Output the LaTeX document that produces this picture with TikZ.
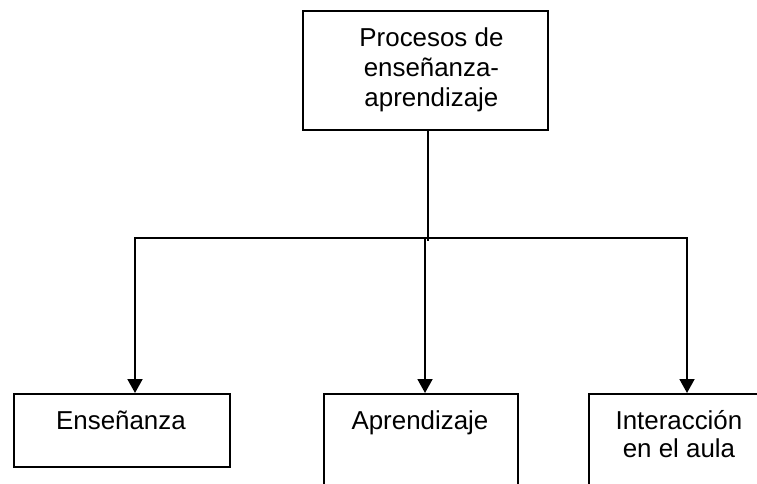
\documentclass[tikz,border=0pt]{standalone}
\usepackage{fontspec}
\setmainfont{Liberation Sans}
\usetikzlibrary{arrows.meta}
\begin{document}
\begin{tikzpicture}[x=1bp,y=-1bp,
  box/.style={draw, line width=1.9bp, inner sep=0, anchor=north west},
  lbl/.style={font=\fontsize{26}{29}\selectfont, inner sep=0, align=center},
  conn/.style={line width=1.9bp},
  arr/.style={line width=1.9bp, -{Triangle[length=14bp,width=15bp]}}]
\path[use as bounding box, clip] (0,0) rectangle (757,484);
% boxes
\node[box, minimum width=245bp, minimum height=119bp] (top) at (302,10) {};
\node[box, minimum width=216bp, minimum height=73bp] (ens) at (13,393) {};
\node[box, minimum width=194bp, minimum height=91bp] (apr) at (323,393) {};
\node[box, minimum width=182bp, minimum height=110bp] (int) at (588,393) {};
% texts
\node[lbl, font=\fontsize{26}{30}\selectfont, anchor=north] (ttop) at ([xshift=6bp, yshift=-18bp]top.north) {Procesos de\\enseñanza-\\aprendizaje};
\node[lbl, anchor=base] (tens) at ([xshift=-1bp, yshift=-36bp]ens.north) {Enseñanza};
\node[lbl, anchor=base] (tapr) at ([xshift=-1bp, yshift=-36bp]apr.north) {Aprendizaje};
\node[lbl, anchor=base] (tint) at ([xshift=-1bp, yshift=-36bp]int.north) {\begin{tabular}[t]{@{}c@{}}Interacción\\en el aula\end{tabular}};
% connectors
\coordinate (jm) at (428,241);
\coordinate (hl) at (134,238);
\coordinate (hr) at (688,238);
\coordinate (hm) at (425,238);
\draw[conn] (top.south -| jm) -- (jm);
\draw[conn] (hl) -- (hr);
\draw[arr] ([xshift=1bp]hl) -- (ens.north -| {135,0});
\draw[arr] (hm) -- (apr.north -| hm);
\draw[arr] ([xshift=-1bp]hr) -- (int.north -| {687,0});
\end{tikzpicture}
\end{document}
